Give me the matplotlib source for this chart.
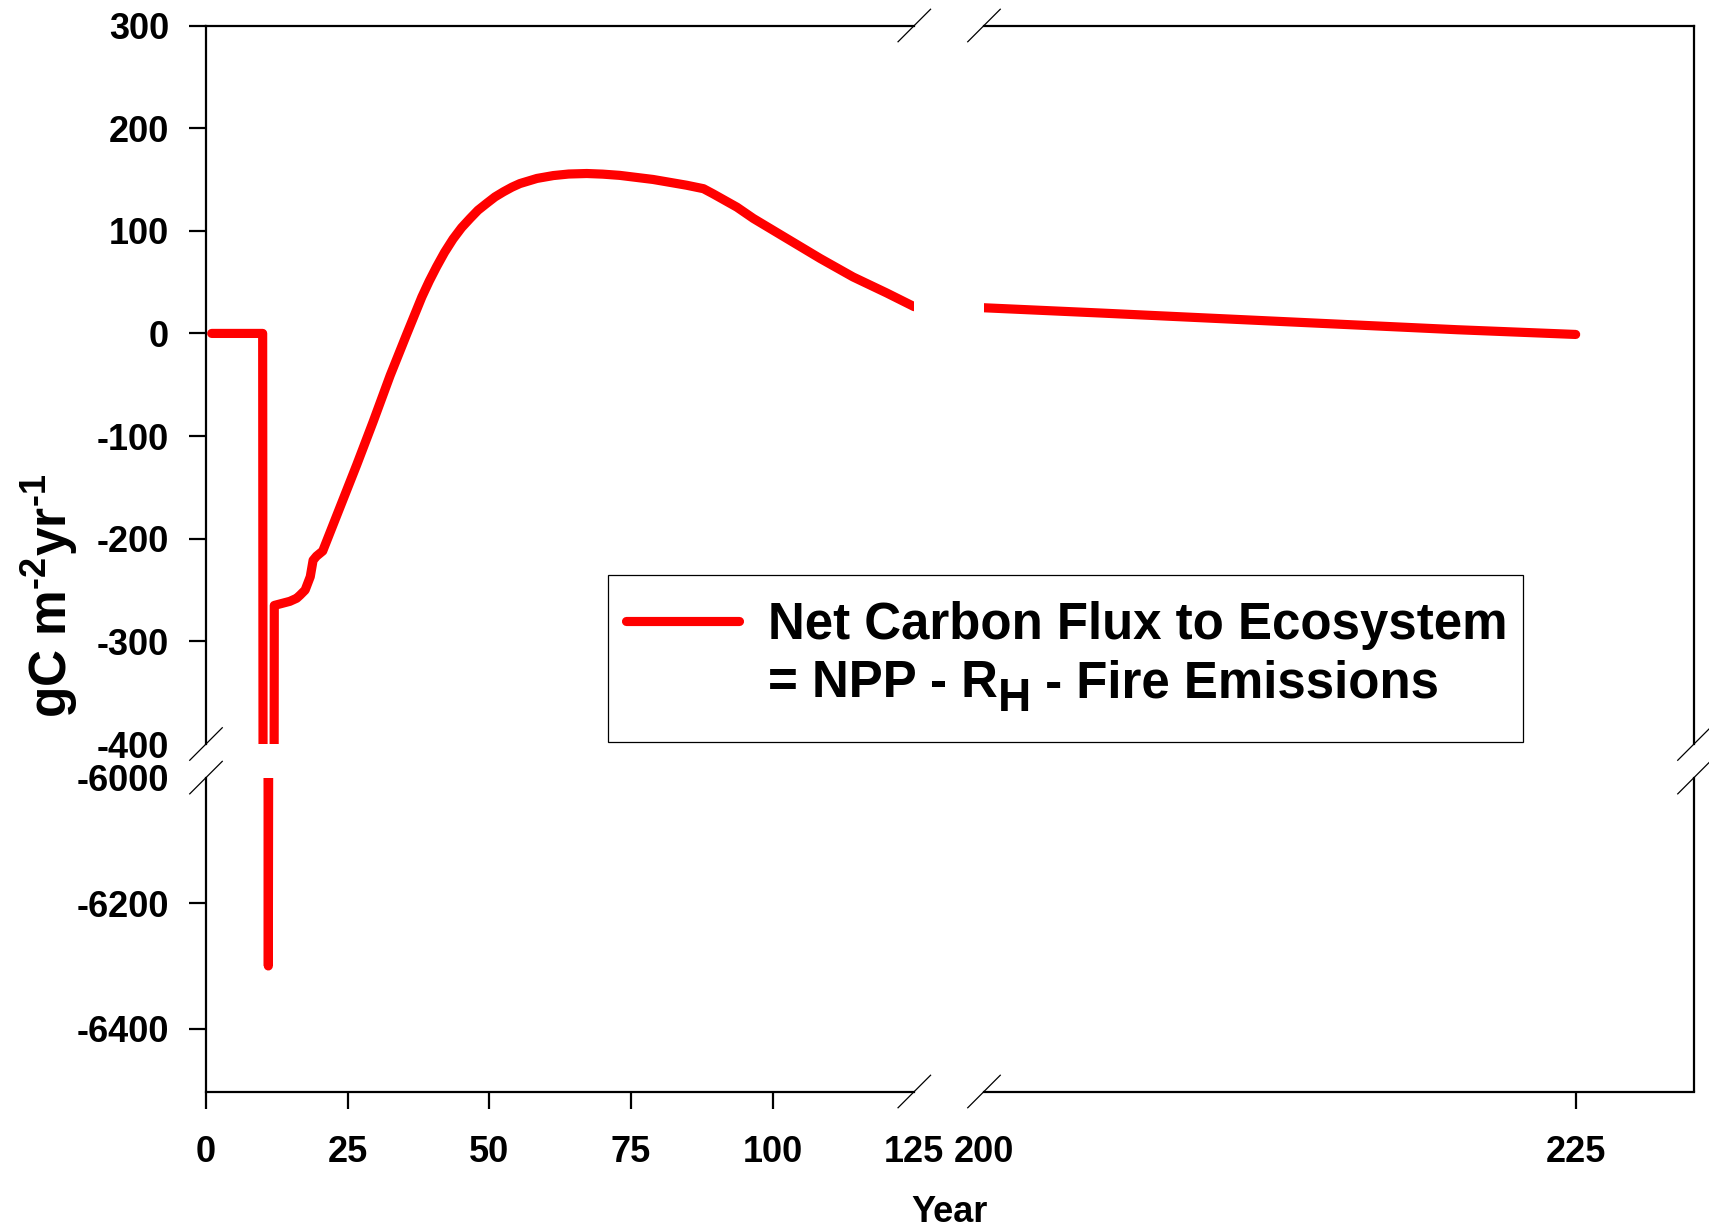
import matplotlib
matplotlib.use("Agg")
import matplotlib.pyplot as plt
from matplotlib.patches import Rectangle

# ---------------- data ----------------
years_early = [1, 10, 11, 12.05, 14.8, 16.0, 16.6, 17.5, 18.4, 18.9,
               19.5, 20.6, 23.6, 26.6, 29.5, 32.5, 35.4, 38.1, 39.4, 40.7,
               42.1, 43.6, 45.1, 46.6, 48.0, 49.5, 51.0, 52.5, 54.0, 55.4,
               58.4, 61.3, 64.0, 67.2, 70.0, 73.0, 78.9, 84.8, 87.8, 89.5,
               93.7, 96.6, 102.5, 108.4, 114.2, 120.1, 125]
flux_early = [0, 0, -6300, -265, -261, -258, -255, -250, -237, -221,
              -217, -212, -170, -128, -86, -41, -1, 35.6, 51, 65,
              79, 92, 103, 112, 120, 126.6, 133, 138, 142.5, 146,
              151, 153.8, 155.3, 155.8, 155.2, 154, 150, 144.4, 141, 136,
              123, 112, 92.5, 73, 55, 39.5, 26]
years_late = [200, 205, 210, 215, 220, 225]
flux_late = [25, 19.8, 14.4, 9.0, 3.6, -1]

xticks_left = [0, 25, 50, 75, 100, 125]
xticks_right = [200, 225]
yticks_top = [-400, -300, -200, -100, 0, 100, 200, 300]
yticks_bottom = [-6400, -6200, -6000]

legend_line1 = "Net Carbon Flux to Ecosystem"
legend_line2a = "= NPP - R"
legend_sub = "H"
legend_line2b = " - Fire Emissions"
xlabel = "Year"
ylabel = r"gC m$^{\text{-}2}$yr$^{\text{-}1}$"

# ---------------- style ----------------
plt.rcParams["font.family"] = ["Liberation Sans", "DejaVu Sans"]
plt.rcParams["font.weight"] = "bold"
plt.rcParams["axes.unicode_minus"] = False
plt.rcParams["mathtext.fontset"] = "custom"
plt.rcParams["mathtext.rm"] = "Liberation Sans:bold"
plt.rcParams["mathtext.default"] = "regular"

RED = "#ff0000"
LW = 6.6
W, H = 1709, 1228
L, XM1, XM2, R = 206, 914.3, 984, 1694
T, YM1, YM2, B = 25.5, 744, 777.6, 1091.5

fig = plt.figure(figsize=(W / 100, H / 100), dpi=100)


def rect(x0, x1, y0, y1):
    return [x0 / W, 1 - y1 / H, (x1 - x0) / W, (y1 - y0) / H]


ax_tl = fig.add_axes(rect(L, XM1, T, YM1))
ax_tr = fig.add_axes(rect(XM2, R, T, YM1))
ax_bl = fig.add_axes(rect(L, XM1, YM2, B))
ax_br = fig.add_axes(rect(XM2, R, YM2, B))

for ax in (ax_tl, ax_bl):
    ax.plot(years_early, flux_early, color=RED, lw=LW,
            solid_capstyle="round", solid_joinstyle="round")
    ax.set_xlim(0, 125)
for ax in (ax_tr, ax_br):
    ax.plot(years_late, flux_late, color=RED, lw=LW,
            solid_capstyle="round", solid_joinstyle="round")
    ax.set_xlim(200, 230)
for ax in (ax_tl, ax_tr):
    ax.set_ylim(-400, 300)
for ax in (ax_bl, ax_br):
    ax.set_ylim(-6500, -6000)

SW = 1.6
for ax in (ax_tl, ax_tr, ax_bl, ax_br):
    for s in ax.spines.values():
        s.set_linewidth(SW)
        s.set_color("black")
    ax.set_facecolor("none")

ax_tl.spines[["right", "bottom"]].set_visible(False)
ax_tr.spines[["left", "bottom"]].set_visible(False)
ax_bl.spines[["right", "top"]].set_visible(False)
ax_br.spines[["left", "top"]].set_visible(False)

tick_kw = dict(direction="out", length=12.5, width=SW, labelsize=26,
               colors="black")
for ax in (ax_tl, ax_tr):
    ax.tick_params(axis="x", bottom=False, labelbottom=False)
for ax in (ax_tr, ax_br):
    ax.tick_params(axis="y", left=False, labelleft=False)

ax_tl.set_yticks(yticks_top)
ax_tl.set_yticklabels([str(v) for v in yticks_top])
ax_bl.set_yticks(yticks_bottom)
ax_bl.set_yticklabels([str(v) for v in yticks_bottom])
for ax in (ax_tl, ax_bl):
    ax.tick_params(axis="y", pad=14, **tick_kw)

ax_bl.set_xticks(xticks_left)
ax_bl.set_xticklabels([str(v) for v in xticks_left])
ax_br.set_xticks(xticks_right)
ax_br.set_xticklabels([str(v) for v in xticks_right])
for ax in (ax_bl, ax_br):
    ax.tick_params(axis="x", pad=18.5, **tick_kw)

# hide tick marks at the break positions
ax_tl.yaxis.get_major_ticks()[0].tick1line.set_visible(False)   # -400
ax_bl.yaxis.get_major_ticks()[2].tick1line.set_visible(False)   # -6000
ax_bl.xaxis.get_major_ticks()[5].tick1line.set_visible(False)   # 125
ax_br.xaxis.get_major_ticks()[0].tick1line.set_visible(False)   # 200

# ---------------- overlay: break marks + legend ----------------
ov = fig.add_axes([0, 0, 1, 1], zorder=10)
ov.set_xlim(0, W)
ov.set_ylim(H, 0)
ov.axis("off")
ov.set_facecolor("none")

d = 16.7
for (cx, cy) in [(XM1, T), (XM2, T), (XM1, B), (XM2, B),
                 (L, YM1), (L, YM2), (R, YM1), (R, YM2)]:
    ov.plot([cx - d, cx + d], [cy + d, cy - d], color="black", lw=0.9,
            solid_capstyle="butt")

ov.add_patch(Rectangle((608, 574.7), 915, 167, facecolor="white",
                       edgecolor="black", lw=0.9))
ov.plot([626, 738.5], [620.7, 620.7], color=RED, lw=LW,
        solid_capstyle="round")
ov.text(768, 639, legend_line1, fontsize=36.7, fontweight="bold",
        va="baseline", ha="left")
t1 = ov.text(768, 697, legend_line2a, fontsize=36.7, fontweight="bold",
             va="baseline", ha="left")
t2 = ov.annotate(legend_sub, xy=(1, 711), xycoords=(t1, "data"),
                 fontsize=33, fontweight="bold", va="baseline", ha="left")
ov.annotate(legend_line2b, xy=(1, 697), xycoords=(t2, "data"),
            fontsize=36.7, fontweight="bold", va="baseline", ha="left")

# ---------------- axis labels ----------------
fig.text(50 / W, 1 - 596 / H, ylabel, rotation=90, fontsize=37,
         fontweight="bold", ha="center", va="center")
fig.text(950 / W, 1 - 1222 / H, xlabel, fontsize=26, fontweight="bold",
         ha="center", va="baseline")

fig.savefig("out.png", dpi=100, facecolor="white")
